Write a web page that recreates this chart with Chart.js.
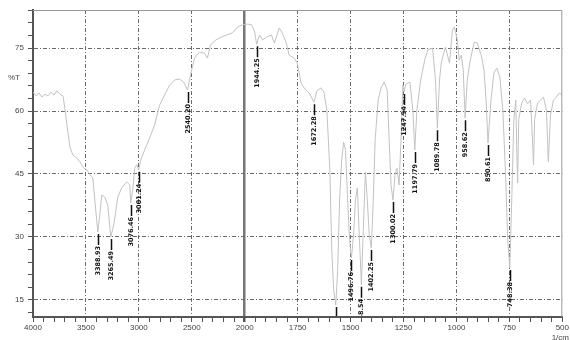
<!DOCTYPE html>
<html>
<head>
<meta charset="utf-8">
<script src="https://cdn.jsdelivr.net/npm/chart.js@4.4.1/dist/chart.umd.min.js"></script>
<style>
  html, body { margin: 0; padding: 0; background: #fff; }
  #wrap { width: 570px; height: 340px; position: relative; }
</style>
</head>
<body>
<div id="wrap"><canvas id="ir"></canvas></div>
<script>
// IR spectrum (%T vs 1/cm), split wavenumber axis: 500/div above 2000, 250/div below

const wavenumbers = [
  4000, 3972, 3943, 3915, 3887, 3859, 3830, 3802, 3774, 3746, 3717, 3699, 3680, 3651, 3623, 3586,
  3557, 3520, 3491, 3463, 3435, 3416, 3388, 3369, 3350, 3322, 3294, 3265, 3237, 3199, 3162, 3115,
  3086, 3077, 3058, 3039, 3020, 3001, 2983, 2945, 2898, 2851, 2804, 2757, 2709, 2662, 2615, 2578,
  2540, 2512, 2474, 2427, 2380, 2352, 2323, 2276, 2220, 2172, 2116, 2069, 2022, 1986,
  1967, 1953, 1944, 1930, 1916, 1897, 1874, 1860, 1837, 1823, 1804, 1790, 1767, 1752, 1734, 1720,
  1696, 1673, 1659, 1640, 1626, 1612, 1598, 1589, 1580, 1570, 1561, 1552, 1542, 1533, 1524, 1514,
  1505, 1496, 1486, 1477, 1468, 1458, 1449, 1440, 1430, 1421, 1412, 1402, 1393, 1384, 1370, 1356,
  1342, 1327, 1318, 1309, 1300, 1290, 1281, 1271, 1262, 1253, 1248, 1239, 1220, 1206, 1197, 1187,
  1169, 1150, 1136, 1113, 1099, 1090, 1080, 1071, 1052, 1033, 1019, 1010, 996, 987, 977, 968,
  959, 949, 935, 916, 902, 883, 870, 860, 851, 837, 823, 809, 795, 781, 767, 758,
  748, 739, 729, 720, 715, 711, 706, 692, 678, 664, 650, 641, 636, 631, 617, 603,
  589, 575, 566, 556, 542, 528, 514, 500
];

const transmittance = [
  64.5, 63.6, 64.3, 63.3, 64.0, 63.6, 64.5, 63.8, 64.8, 64.0, 63.6, 60.7, 56.7, 51.4, 49.5, 48.8,
  47.9, 46.4, 46.0, 44.8, 44.1, 38.8, 31.2, 35.3, 40.0, 39.5, 37.6, 30.0, 32.9, 39.5, 41.7, 43.1,
  42.4, 38.1, 41.2, 46.4, 47.2, 46.0, 48.3, 50.7, 53.6, 56.7, 61.4, 63.8, 66.2, 67.4, 67.6, 66.9,
  65.0, 68.6, 72.6, 74.0, 73.8, 72.6, 75.7, 76.9, 77.6, 78.1, 78.6, 80.0, 80.5, 80.7,
  80.5, 78.8, 75.9, 78.1, 76.9, 77.6, 78.1, 76.2, 79.8, 78.6, 76.2, 73.3, 72.6, 71.4, 66.7, 65.5,
  64.3, 62.1, 64.8, 65.5, 64.5, 60.2, 46.0, 26.9, 17.4, 13.8, 22.2, 38.8, 48.3, 52.6, 50.7, 38.8,
  29.3, 25.0, 30.5, 38.8, 41.7, 29.3, 18.6, 31.7, 45.5, 38.8, 30.5, 27.4, 38.8, 53.1, 62.6, 65.5,
  66.9, 65.0, 53.1, 42.4, 38.8, 44.8, 46.4, 42.4, 53.1, 66.2, 64.5, 66.4, 66.9, 60.2, 50.7, 60.2,
  67.4, 72.1, 74.5, 75.0, 67.4, 55.9, 67.4, 71.7, 75.2, 71.4, 79.3, 80.0, 76.9, 72.1, 73.3, 69.8,
  58.3, 67.4, 72.1, 76.4, 76.2, 73.3, 69.8, 62.6, 52.4, 62.6, 69.1, 70.2, 68.1, 60.2, 43.6, 29.3,
  22.6, 38.8, 57.9, 62.6, 50.7, 42.9, 57.9, 61.9, 63.1, 61.7, 62.6, 53.1, 47.2, 57.9, 61.9, 62.6,
  63.3, 60.2, 47.9, 59.0, 62.6, 63.3, 64.3, 63.8
];

// labelled bands
const peakWavenumbers = [3388, 3265, 3077, 3001, 2540, 1944, 1673, 1570, 1496, 1449, 1402, 1300, 1248, 1197, 1090, 959, 851, 748];
const peakTransmittance = [31.2, 30.0, 38.1, 46.0, 65.0, 75.9, 62.1, 13.8, 25.0, 18.6, 27.4, 38.8, 64.5, 50.7, 55.9, 58.3, 52.4, 22.6];
const peakLabels = ['3388.93', '3265.49', '3076.46', '3001.24', '2540.20', '1944.25', '1672.28', '1570.06', '1496.76',
                    '1448.54', '1402.25', '1300.02', '1247.94', '1197.79', '1089.78', '958.62', '850.61', '748.38'];

const xTickLabels = ['4000', '3500', '3000', '2500', '2000', '1750', '1500', '1250', '1000', '750', '500'];
const yTickValues = [15, 30, 45, 60, 75];

// wavenumber -> axis position (one unit per labelled division)
function toPos(w) {
  return w >= 2000 ? (4000 - w) / 500 : 4 + (2000 - w) / 250;
}

const points = wavenumbers.map((w, i) => ({ x: toPos(w), y: transmittance[i] }));

const axisColor = '#555';
const gridColor = '#6a6a6a';
const font = { family: 'Liberation Sans', size: 8 };

const peakLabelPlugin = {
  id: 'peakLabels',
  afterDatasetsDraw(chart) {
    const { ctx, chartArea: a, scales: { x, y } } = chart;
    ctx.save();
    ctx.beginPath();
    ctx.rect(a.left, a.top, a.right - a.left, a.bottom - a.top - 1);
    ctx.clip();
    ctx.fillStyle = '#111';
    ctx.strokeStyle = '#111';
    ctx.lineWidth = 1.5;
    ctx.font = 'bold 6.5px "DejaVu Sans"';
    peakWavenumbers.forEach((w, i) => {
      const px = Math.round(x.getPixelForValue(toPos(w))) + 0.5;
      const py = y.getPixelForValue(peakTransmittance[i]);
      ctx.beginPath();
      ctx.moveTo(px, py + 2);
      ctx.lineTo(px, py + 13);
      ctx.stroke();
      ctx.save();
      ctx.translate(px, py + 14);
      ctx.rotate(-Math.PI / 2);
      ctx.textAlign = 'right';
      ctx.textBaseline = 'middle';
      ctx.fillText(peakLabels[i], 0, 0);
      ctx.restore();
    });
    ctx.restore();
  }
};

const frameTextPlugin = {
  id: 'frameText',
  afterDraw(chart) {
    const { ctx, chartArea: a } = chart;
    ctx.save();
    ctx.strokeStyle = '#999';
    ctx.lineWidth = 1;
    ctx.beginPath();
    ctx.moveTo(a.left, a.top + 0.5);
    ctx.lineTo(a.right - 0.5, a.top + 0.5);
    ctx.lineTo(a.right - 0.5, a.bottom);
    ctx.stroke();
    ctx.fillStyle = '#444';
    ctx.font = '8px "Liberation Sans"';
    ctx.textAlign = 'left';
    ctx.textBaseline = 'middle';
    ctx.fillText('%T', 8, 78);
    ctx.textAlign = 'right';
    ctx.textBaseline = 'top';
    ctx.fillText('1/cm', 569, 334);
    ctx.restore();
  }
};

new Chart(document.getElementById('ir'), {
  type: 'line',
  data: {
    datasets: [{
      label: 'IR',
      data: points,
      borderColor: '#c2c2c2',
      borderWidth: 1,
      pointRadius: 0,
      tension: 0,
      fill: false
    }]
  },
  options: {
    responsive: true,
    maintainAspectRatio: false,
    animation: false,
    layout: { padding: { top: 10, right: 4, left: 0, bottom: 0 } },
    plugins: {
      legend: { display: false },
      title: { display: false },
      tooltip: { enabled: false }
    },
    scales: {
      x: {
        type: 'linear',
        min: 0,
        max: 10,
        afterBuildTicks: scale => {
          scale.ticks = Array.from({ length: 51 }, (_, i) => ({ value: i * 0.2 }));
        },
        afterFit: scale => { scale.height = 23; },
        ticks: {
          autoSkip: false,
          maxRotation: 0,
          padding: 1,
          color: '#444',
          font,
          callback: v => {
            const k = Math.round(v * 5);
            return k % 5 === 0 ? xTickLabels[k / 5] : '';
          }
        },
        grid: {
          color: c => {
            const k = Math.round(c.tick.value * 5);
            if (k === 0 || k === 50) return 'rgba(0,0,0,0)';
            return k % 5 === 0 ? (k === 20 ? '#777' : gridColor) : 'rgba(0,0,0,0)';
          },
          lineWidth: c => (Math.round(c.tick.value * 5) === 20 ? 2.5 : 1),
          tickColor: axisColor,
          tickLength: 5
        },
        border: {
          color: axisColor,
          width: 2,
          dash: c => (c.tick && Math.round(c.tick.value * 5) === 20 ? [] : [4, 2, 1, 2])
        }
      },
      y: {
        type: 'linear',
        min: 10.95,
        max: 84.05,
        afterBuildTicks: scale => {
          scale.ticks = Array.from({ length: 25 }, (_, i) => ({ value: 12 + i * 3 }));
        },
        afterFit: scale => { scale.width = 33; },
        ticks: {
          autoSkip: false,
          padding: 4,
          color: '#444',
          font,
          callback: v => (yTickValues.includes(v) ? String(v) : '')
        },
        grid: {
          color: c => (yTickValues.includes(c.tick.value) ? gridColor : 'rgba(0,0,0,0)'),
          lineWidth: 1,
          tickColor: axisColor,
          tickLength: 5
        },
        border: {
          color: axisColor,
          width: 2,
          dash: [4, 2, 1, 2]
        }
      }
    }
  },
  plugins: [peakLabelPlugin, frameTextPlugin]
});
</script>
</body>
</html>
